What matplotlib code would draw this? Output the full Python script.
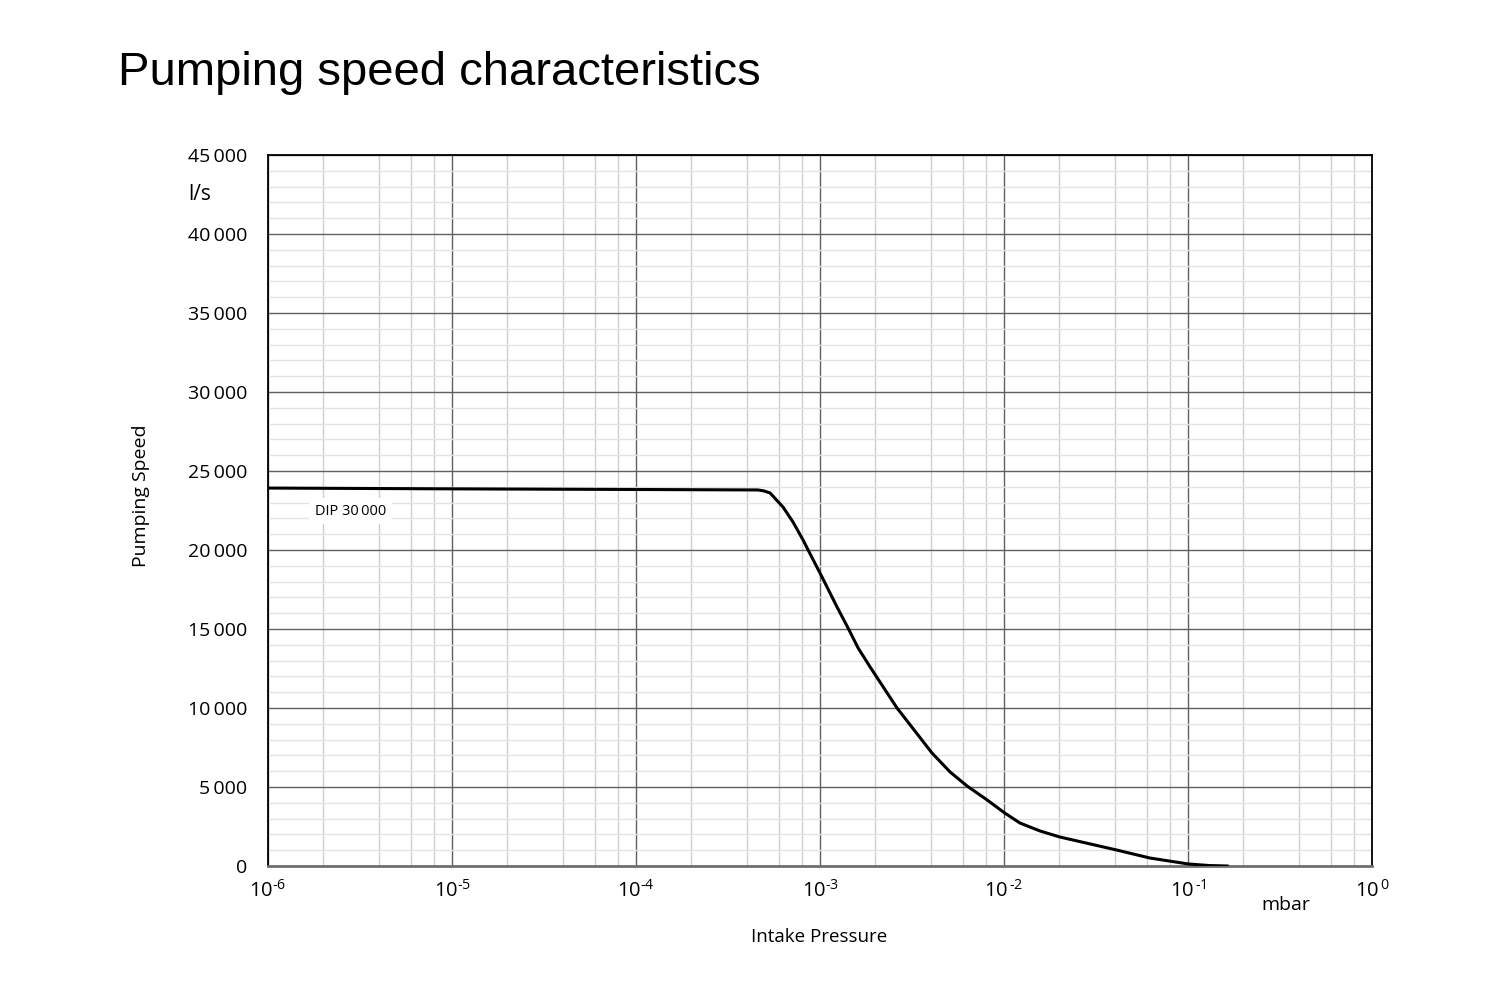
import numpy as np
import matplotlib.pyplot as plt
from matplotlib.ticker import FixedLocator, NullFormatter

plt.rcParams['font.family'] = ['Open Sans', 'DejaVu Sans']
plt.rcParams['mathtext.fontset'] = 'custom'
plt.rcParams['mathtext.rm'] = 'Open Sans'
plt.rcParams['mathtext.it'] = 'Open Sans'

# data (DIP 30000)
pressure = [1e-6, 1e-5, 1e-4, 4.6e-4, 4.95e-4, 5.35e-4, 6.29e-4, 7.13e-4, 8.09e-4, 8.5e-4,
            1.025e-3, 1.237e-3, 1.42e-3, 1.61e-3, 1.87e-3, 2.62e-3, 4.06e-3,
            5.09e-3, 6.3e-3, 8.09e-3, 1.01e-2, 1.22e-2, 1.57e-2, 2.01e-2,
            4.1e-2, 6.2e-2, 0.1, 0.13, 0.163]
speed = [23920, 23870, 23830, 23800, 23740, 23610, 22720, 21770, 20630, 20130,
         18290, 16390, 15060, 13800, 12600, 10000, 7150,
         5950, 5060, 4180, 3350, 2720, 2215, 1835,
         1010, 506, 130, 30, 0]

yticks = [0, 5000, 10000, 15000, 20000, 25000, 30000, 35000, 40000, 45000]
ytick_labels = ['0', '5\u2009000', '10\u2009000', '15\u2009000', '20\u2009000', '25\u2009000',
                '30\u2009000', '35\u2009000', '40\u2009000', '45\u2009000']
xticks = [1e-6, 1e-5, 1e-4, 1e-3, 1e-2, 1e-1, 1e0]
xtick_labels = ['$10^{\\text{-6}}$', '$10^{\\text{-5}}$', '$10^{\\text{-4}}$', '$10^{\\text{-3}}$',
                '$10^{\\,\\text{-2}}$', '$10^{\\,\\text{-1}}$', '$10^{\\,\\text{0}}$']

fig = plt.figure(figsize=(15, 10), dpi=100)
ax = fig.add_axes([0.1787, 0.134, 0.736, 0.711])

ax.set_xscale('log')
ax.set_xlim(1e-6, 1)
ax.set_ylim(0, 45000)

# grid
minor_x = [m * 10.0**e for e in range(-6, 0) for m in (2, 4, 6, 8)]
ax.xaxis.set_minor_locator(FixedLocator(minor_x))
ax.xaxis.set_minor_formatter(NullFormatter())
ax.yaxis.set_minor_locator(FixedLocator(np.arange(0, 45001, 1000)))
ax.grid(which='minor', axis='x', color='#cfcfcf', lw=1.0)
ax.grid(which='minor', axis='y', color='#e3e3e3', lw=1.0)
ax.grid(which='major', color='#606060', lw=1.0)
ax.set_axisbelow(True)

ax.plot(pressure, speed, color='black', lw=2.2, zorder=3, solid_joinstyle='round')

ax.set_xticks(xticks)
ax.set_xticklabels(xtick_labels)
ax.set_yticks(yticks)
ax.set_yticklabels(ytick_labels)
ax.tick_params(which='both', length=0)
ax.tick_params(axis='x', labelsize=14.5, pad=10)
ax.tick_params(axis='y', labelsize=14, pad=15)

for s in ['left', 'top', 'right']:
    ax.spines[s].set_color('black')
    ax.spines[s].set_linewidth(1.3)
ax.spines['bottom'].set_color('#707070')
ax.spines['bottom'].set_linewidth(2)

ax.text(1.8e-6, 22450, 'DIP 30\u2009000', fontsize=10.5, ha='left', va='center',
        bbox=dict(facecolor='white', edgecolor='none', pad=4), zorder=4)

fig.text(0.133, 0.806, 'l/s', fontsize=15, ha='center', va='center')
fig.text(0.857, 0.095, 'mbar', fontsize=14, ha='center', va='center')
fig.text(0.546, 0.063, 'Intake Pressure', fontsize=13.5, ha='center', va='center')
fig.text(0.094, 0.504, 'Pumping Speed', fontsize=14, ha='center', va='center', rotation=90)
fig.text(0.079, 0.927, 'Pumping speed characteristics', fontsize=34, ha='left', va='center',
         family='Liberation Sans')

fig.savefig('out.png', dpi=100)
